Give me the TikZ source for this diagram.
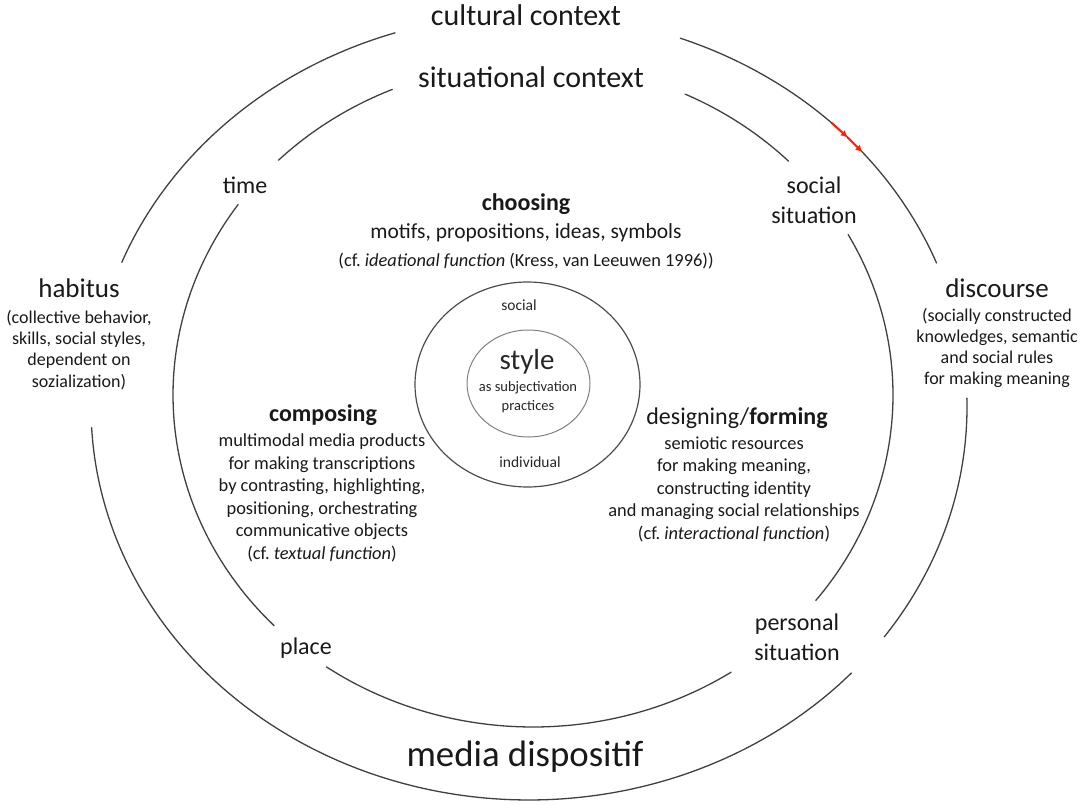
\documentclass[tikz,border=0pt]{standalone}
\usepackage{fontspec}
\setmainfont{Carlito}
\usetikzlibrary{arrows.meta}

\begin{document}
\begin{tikzpicture}[x=1pt, y=-1pt]
    % Styles
    \tikzstyle{ringline} = [draw, line width=1.3pt, black!75, line cap=round]
    \tikzstyle{coreline} = [draw, line width=1.2pt, black!70]
    \tikzstyle{innerline} = [draw, line width=1pt, black!50]
    \tikzstyle{redmark} = [draw, line width=2pt, red!75!orange, -{Latex[length=7pt, width=7pt]}]
    \tikzstyle{contextlabel} = [inner sep=0pt, text=black!90, font=\fontsize{30}{36}\selectfont]
    \tikzstyle{fieldlabel} = [inner sep=0pt, text=black!90, font=\fontsize{27}{32}\selectfont]
    \tikzstyle{fieldnote} = [inner sep=0pt, align=center, text=black!90, font=\fontsize{18}{21.3}\selectfont]
    \tikzstyle{situlabel} = [inner sep=0pt, align=center, text=black!90, font=\fontsize{24}{30}\selectfont]
    \tikzstyle{practicehead} = [inner sep=0pt, text=black!90, font=\fontsize{24}{29}\selectfont]
    \tikzstyle{practicebody} = [inner sep=0pt, align=center, text=black!90, font=\fontsize{18.4}{22.5}\selectfont]
    \tikzstyle{corelabel} = [inner sep=0pt, align=center, text=black!85, font=\fontsize{15.5}{19}\selectfont]

    \useasboundingbox (0,0) rectangle (1084,805);

    % Rings: cultural context (outer) and situational context (inner)
    \foreach \s/\e in {21.5/69.8, 107.8/158.4, 183/317.4, -35.8/1.3}
        \draw[ringline] plot[domain=\s:\e, samples=60, smooth] ({529+438*cos(\x)}, {407-393*sin(\x)});
    \foreach \s/\e in {44.8/65, 113/135, 145/224, 235/303.4, 321.8/388.9}
        \draw[ringline] plot[domain=\s:\e, samples=60, smooth] ({533+360*cos(\x)}, {395-332*sin(\x)});

    % Style core
    \draw[coreline] (527.5,384.5) ellipse [x radius=112.5, y radius=102.5];
    \draw[innerline] (528.5,383.5) ellipse [x radius=61.5, y radius=53.5];

    % Red marks on the outer ring
    \coordinate (mark1) at ({529+438*cos(46.3)}, {407-393*sin(46.3)});
    \coordinate (mark2) at ({529+438*cos(43.3)}, {407-393*sin(43.3)});
    \coordinate (mark3) at ({529+438*cos(40.4)}, {407-393*sin(40.4)});
    \draw[redmark] (mark1) -- (mark2);
    \draw[redmark] (mark2) -- (mark3);

    % Context labels
    \node [contextlabel] (cult) at (526,15) {cultural context};
    \node [contextlabel] (situ) at (531,77) {situational context};
    \node [contextlabel, font=\fontsize{36.8}{44}\selectfont] (media) at (525,757) {media dispositif};

    % Habitus and discourse
    \node [fieldlabel] (habitus) at (79,288) {habitus};
    \node [fieldnote] (habnote) at (79,350) {(collective behavior,\\ skills, social styles,\\ dependent on\\ sozialization)};
    \node [fieldlabel] (disc) at (997,288) {discourse};
    \node [fieldnote] (discnote) at (997,348) {(socially constructed\\ knowledges, semantic\\ and social rules\\ for making meaning};

    % Situation labels
    \node [situlabel] (time) at (245,185) {time};
    \node [situlabel] (social) at (814,200) {social\\ situation};
    \node [situlabel] (placelbl) at (306,648) {place};
    \node [situlabel] (personal) at (797,637) {personal\\ situation};

    % Practices
    \node [practicehead] (choose) at (526,204) {\bfseries choosing};
    \node [practicebody, font=\fontsize{21.5}{26}\selectfont] (choosebody) at (526,233) {motifs, propositions, ideas, symbols};
    \node [practicebody] (choosecf) at (526,261) {(cf.\ \textit{ideational function} (Kress, van Leeuwen 1996))};

    \node [practicehead] (compose) at (323,415) {\bfseries composing};
    \node [practicebody] (composebody) at (322,498) {multimodal media products\\ for making transcriptions\\ by contrasting, highlighting,\\ positioning, orchestrating\\ communicative objects\\ (cf.\ \textit{textual function})};

    \node [practicehead] (design) at (737,418) {designing/\textbf{forming}};
    \node [practicebody] (designbody) at (734,489) {semiotic resources\\ for making meaning,\\ constructing identity\\ and managing social relationships\\ (cf.\ \textit{interactional function})};

    % Core labels
    \node [corelabel] (coresocial) at (519,305) {social};
    \node [corelabel, font=\fontsize{29}{34}\selectfont] (style) at (527,362) {style};
    \node [corelabel, font=\fontsize{14.5}{19}\selectfont] (subject) at (528,397.5) {as subjectivation\\ practices};
    \node [corelabel] (individual) at (530,462) {individual};

\end{tikzpicture}
\end{document}
